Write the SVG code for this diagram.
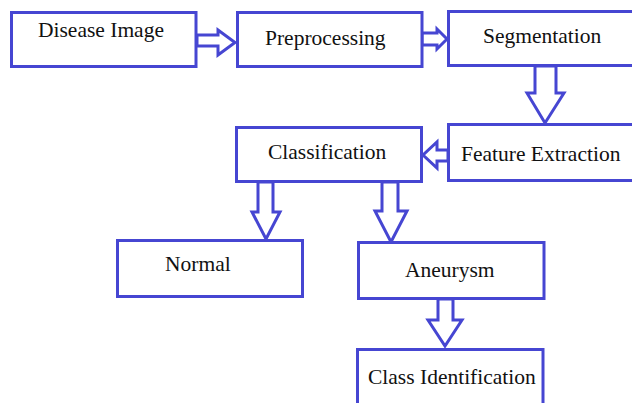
<svg xmlns="http://www.w3.org/2000/svg" width="632" height="403" viewBox="0 0 632 403">
<style>
.box{fill:#ffffff;stroke:#4646d2;stroke-width:3}
.arr{fill:#ffffff;stroke:#4646d2;stroke-width:3;stroke-linejoin:miter}
.lbl{font-family:"Liberation Serif","Times New Roman",serif;font-size:21.5px;fill:#111111}
</style>
<rect width="632" height="403" fill="#ffffff"/>
<g id="connectors">
<polygon class="arr" points="197,35 218,35 218,30 235,42.5 218,55 218,46 197,46"/>
<polygon class="arr" points="422,33 437,33 437,29 447,39 437,49 437,45 422,45"/>
<polygon class="arr" points="535,66 556,66 556,93 564,93 545,123 527,93 535,93"/>
<polygon class="arr" points="448,150 437,150 437,142 423,155 437,168 437,161 448,161"/>
<polygon class="arr" points="258,182 273,182 273,212 280,212 266,239 252,212 258,212"/>
<polygon class="arr" points="382,182 398,182 398,211 407,211 391,242 375,211 382,211"/>
<polygon class="arr" points="438,299 453,299 453,320 462,320 445,346 428,320 438,320"/>
</g>
<g id="disease-image">
<rect class="box" x="11.5" y="12.5" width="184.5" height="54"/>
<text class="lbl" x="38" y="37">Disease Image</text>
</g>
<g id="preprocessing">
<rect class="box" x="237.5" y="12.5" width="184.5" height="54"/>
<text class="lbl" x="265" y="45">Preprocessing</text>
</g>
<g id="segmentation">
<rect class="box" x="448.5" y="11.5" width="200" height="54"/>
<text class="lbl" x="483" y="43">Segmentation</text>
</g>
<g id="feature-extraction">
<rect class="box" x="448.5" y="124.5" width="200" height="56"/>
<text class="lbl" x="461" y="161">Feature Extraction</text>
</g>
<g id="classification">
<rect class="box" x="236.5" y="127.5" width="185" height="54"/>
<text class="lbl" x="268" y="159">Classification</text>
</g>
<g id="normal">
<rect class="box" x="117.5" y="240.5" width="185" height="56"/>
<text class="lbl" x="165" y="271">Normal</text>
</g>
<g id="aneurysm">
<rect class="box" x="358.5" y="242.5" width="185.5" height="56"/>
<text class="lbl" x="405" y="277">Aneurysm</text>
</g>
<g id="class-identification">
<rect class="box" x="357.5" y="349.5" width="185.5" height="70"/>
<text class="lbl" x="368" y="384">Class Identification</text>
</g>
</svg>
